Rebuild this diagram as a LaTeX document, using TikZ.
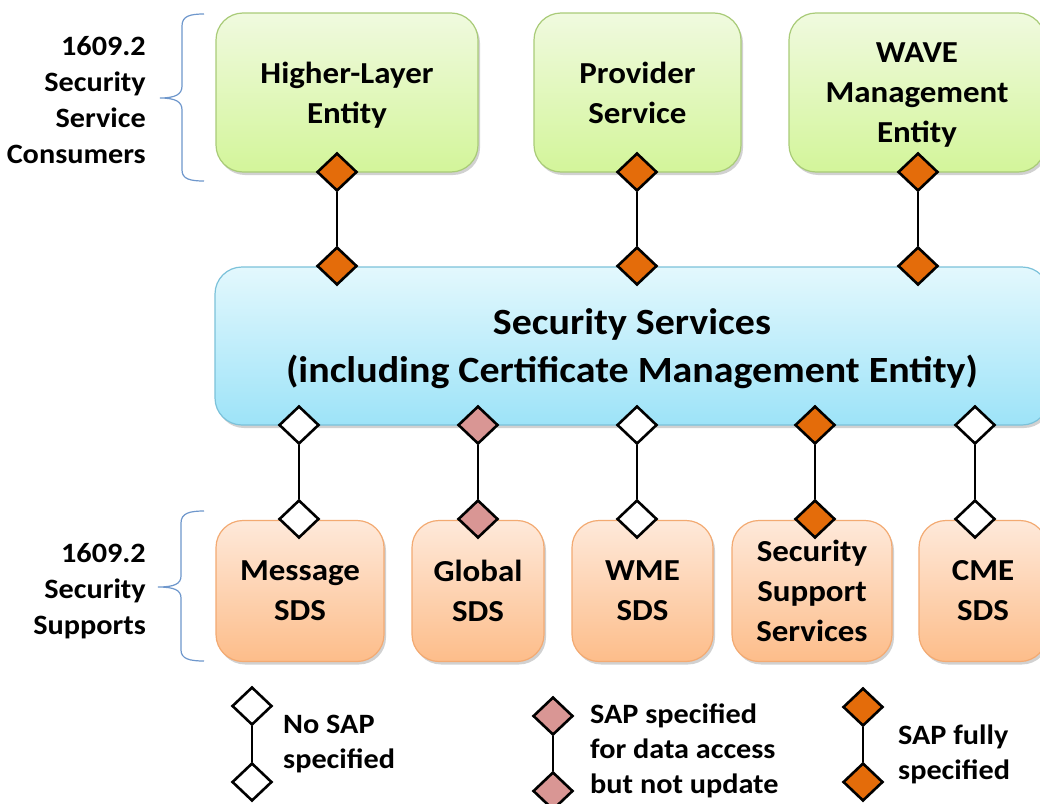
\documentclass[tikz,border=0pt]{standalone}
\usepackage{fontspec}
\setmainfont{Carlito}[FakeStretch=1.08]
\usetikzlibrary{shapes.geometric,shadows}
\definecolor{greenTop}{HTML}{F0FADF}
\definecolor{greenBot}{HTML}{D3F59A}
\definecolor{greenLine}{HTML}{A9CB78}
\definecolor{blueTop}{HTML}{E3F8FD}
\definecolor{blueBot}{HTML}{9DE3F8}
\definecolor{blueLine}{HTML}{7CC2DA}
\definecolor{oranTop}{HTML}{FEE9DA}
\definecolor{oranBot}{HTML}{FDBD8A}
\definecolor{oranLine}{HTML}{F3AA72}
\definecolor{sapOrange}{HTML}{E46C0A}
\definecolor{sapPink}{HTML}{D99694}
\definecolor{braceBlue}{HTML}{6E97CC}
\tikzset{
  box/.style={rectangle, rounded corners=27, line width=1.2, align=center, inner sep=0,
    font=\fontsize{30.5}{40}\selectfont\bfseries,
    drop shadow={shadow xshift=2, shadow yshift=3, opacity=0.18, fill=black}},
  greenbox/.style={box, draw=greenLine, top color=greenTop, bottom color=greenBot, text depth=0pt},
  bluebox/.style={box, draw=blueLine, top color=blueTop, bottom color=blueBot, text depth=0pt,
    font=\fontsize{37}{48}\selectfont\bfseries},
  orangebox/.style={box, draw=oranLine, top color=oranTop, bottom color=oranBot, minimum height=141},
  sap/.style={diamond, draw=black, line width=2.6, minimum width=40, minimum height=38, inner sep=0},
  sapfull/.style={sap, fill=sapOrange},
  sappart/.style={sap, fill=sapPink},
  sapnone/.style={sap, fill=white},
  link/.style={draw=black, line width=2.6},
  brace/.style={draw=braceBlue, line width=1.2},
  sidelabel/.style={align=right, anchor=east, inner sep=0, font=\fontsize{28}{36}\selectfont\bfseries},
  legendtext/.style={align=left, anchor=west, inner sep=0, font=\fontsize{28}{35}\selectfont\bfseries},
}
\begin{document}
\begin{tikzpicture}[x=1pt,y=-1pt]
\useasboundingbox (0,0) rectangle (1040,803);
\clip (0,0) rectangle (1040,803);
\fill[white] (0,0) rectangle (1040,803);

% side labels and braces
\node[sidelabel] (consumers) at (146,100) {1609.2\\Security\\Service\\Consumers};
\node[sidelabel] (supports) at (146,591) {1609.2\\Security\\Supports};
\draw[brace] (204,14) .. controls (190,14) and (182,16) .. (182,26) -- (182,86)
  .. controls (182,94) and (176,98) .. (160,98)
  .. controls (176,98) and (182,102) .. (182,110) -- (182,170)
  .. controls (182,179) and (190,181) .. (204,181);
\draw[brace] (204,511) .. controls (190,511) and (181,513) .. (181,523) -- (181,576)
  .. controls (181,584) and (174,587) .. (158,587)
  .. controls (174,587) and (181,590) .. (181,598) -- (181,650)
  .. controls (181,659) and (190,661) .. (204,661);

% boxes
\node[greenbox, minimum width=262, minimum height=159] (hle) at (347,92.5) {Higher-Layer\\Entity};
\node[greenbox, minimum width=207, minimum height=159] (prov) at (637.5,92.5) {Provider\\Service};
\node[greenbox, minimum width=256, minimum height=159] (wave) at (917,92.5) {WAVE\\Management\\Entity};
\node[bluebox, minimum width=834, minimum height=158] (secsrv) at (632,346) {Security Services\\(including Certificate Management Entity)};
\node[orangebox, minimum width=168] (msds) at (300,591) {Message\\SDS};
\node[orangebox, minimum width=132] (gsds) at (478,591) {Global\\SDS};
\node[orangebox, minimum width=141] (wsds) at (642.5,591) {WME\\SDS};
\node[orangebox, minimum width=160] (sss) at (812,591) {Security\\Support\\Services};
\node[orangebox, minimum width=128] (csds) at (983,591) {CME\\SDS};

% upper SAPs
\node[sapfull] (u1a) at (337,172) {};
\node[sapfull] (u1b) at (337,266) {};
\node[sapfull] (u2a) at (637,172) {};
\node[sapfull] (u2b) at (637,266) {};
\node[sapfull] (u3a) at (918,172) {};
\node[sapfull] (u3b) at (918,266) {};
\draw[link] (u1a) -- (u1b);
\draw[link] (u2a) -- (u2b);
\draw[link] (u3a) -- (u3b);

% lower SAPs
\node[sapnone] (l1a) at (299,425) {};
\node[sapnone] (l1b) at (299,519) {};
\node[sappart] (l2a) at (478,425) {};
\node[sappart] (l2b) at (478,519) {};
\node[sapnone] (l3a) at (637,425) {};
\node[sapnone] (l3b) at (637,519) {};
\node[sapfull] (l4a) at (815,425) {};
\node[sapfull] (l4b) at (815,519) {};
\node[sapnone] (l5a) at (975,425) {};
\node[sapnone] (l5b) at (975,519) {};
\draw[link] (l1a) -- (l1b);
\draw[link] (l2a) -- (l2b);
\draw[link] (l3a) -- (l3b);
\draw[link] (l4a) -- (l4b);
\draw[link] (l5a) -- (l5b);

% legend
\node[sapnone] (k1a) at (252,706) {};
\node[sapnone] (k1b) at (252,782) {};
\node[sappart] (k2a) at (553,716) {};
\node[sappart] (k2b) at (553,791) {};
\node[sapfull] (k3a) at (863,707) {};
\node[sapfull] (k3b) at (863,782) {};
\draw[link] (k1a) -- (k1b);
\draw[link] (k2a) -- (k2b);
\draw[link] (k3a) -- (k3b);
\node[legendtext] (k1t) at (283,744) {No SAP\\specified};
\node[legendtext] (k2t) at (590,751) {SAP specified\\for data access\\but not update};
\node[legendtext] (k3t) at (898,754) {SAP fully\\specified};
\end{tikzpicture}
\end{document}
